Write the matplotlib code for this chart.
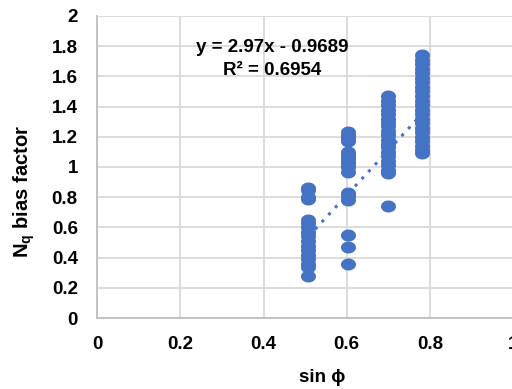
import numpy as np
import matplotlib
matplotlib.use("Agg")
import matplotlib.pyplot as plt
from matplotlib.path import Path

plt.rcParams['font.family'] = ['Liberation Sans', 'DejaVu Sans']
plt.rcParams['mathtext.fontset'] = 'custom'
plt.rcParams['mathtext.rm'] = 'Liberation Sans'
plt.rcParams['mathtext.bf'] = 'Liberation Sans:bold'

# sin(phi) levels and the N_q bias factors observed at each
x_levels = [0.508, 0.602, 0.700, 0.780]
bias_x1 = [0.86, 0.85, 0.80, 0.79, 0.65, 0.63, 0.60, 0.57, 0.54, 0.51, 0.48,
           0.45, 0.42, 0.39, 0.36, 0.34, 0.28]
bias_x2 = [1.23, 1.21, 1.19, 1.17, 1.10, 1.08, 1.06, 1.04, 1.02, 1.00, 0.97,
           0.83, 0.81, 0.78, 0.55, 0.47, 0.36]
bias_x3 = [1.47, 1.44, 1.41, 1.38, 1.35, 1.32, 1.30, 1.27, 1.24, 1.21, 1.18,
           1.15, 1.13, 1.10, 1.07, 1.04, 1.01, 0.98, 0.96, 0.74]
bias_x4 = [1.74, 1.71, 1.68, 1.65, 1.62, 1.59, 1.56, 1.53, 1.50, 1.47, 1.44,
           1.41, 1.38, 1.35, 1.32, 1.29, 1.26, 1.23, 1.20, 1.17, 1.14, 1.11,
           1.09]

# linear trendline
slope = 2.97
intercept = -0.9689
r_squared = 0.6954

x_ticks = [0, 0.2, 0.4, 0.6, 0.8, 1]
x_tick_labels = ['0', '0.2', '0.4', '0.6', '0.8', '1']
y_ticks = [0, 0.2, 0.4, 0.6, 0.8, 1, 1.2, 1.4, 1.6, 1.8, 2]
y_tick_labels = ['0', '0.2', '0.4', '0.6', '0.8', '1', '1.2', '1.4', '1.6', '1.8', '2']

blue = '#4472C4'
grid_grey = '#D9D9D9'
fs = 13.5

# slightly flattened circle marker
t = np.linspace(0, 2 * np.pi, 60)
ellipse = Path(np.column_stack([np.cos(t), 0.8 * np.sin(t)]), closed=True)

fig = plt.figure(figsize=(5.12, 3.89), dpi=100)
ax = fig.add_axes([0.190, 0.1825, 0.812, 0.7765])

groups = [bias_x1, bias_x2, bias_x3, bias_x4]
for xv, ys in zip(x_levels, groups):
    ax.plot([xv] * len(ys), ys, linestyle='none', marker=ellipse,
            markersize=10.8, color=blue, markeredgewidth=0, zorder=3)

xs = np.array([x_levels[0], x_levels[-1]])
ax.plot(xs, slope * xs + intercept, linestyle=(0, (1, 2.2)), color=blue,
        linewidth=2.2, zorder=2)

ax.text(0.42, 1.79, f'y = {slope:.2f}x - {abs(intercept):.4f}',
        ha='center', va='center', fontsize=fs, fontweight='bold')
ax.text(0.42, 1.64, f'R² = {r_squared:.4f}',
        ha='center', va='center', fontsize=fs, fontweight='bold')

ax.set_xlim(0, 1)
ax.set_ylim(0, 2)
ax.set_xticks(x_ticks)
ax.set_xticklabels(x_tick_labels)
ax.set_yticks(y_ticks)
ax.set_yticklabels(y_tick_labels)
ax.tick_params(length=0, labelsize=fs)
ax.tick_params(axis='y', pad=14)
ax.tick_params(axis='x', pad=13)
for lab in ax.get_xticklabels() + ax.get_yticklabels():
    lab.set_fontweight('bold')

ax.grid(True, color=grid_grey, linewidth=1.3, zorder=0)
ax.set_axisbelow(True)
for side in ['top', 'right']:
    ax.spines[side].set_visible(False)
for side in ['left', 'bottom']:
    ax.spines[side].set_color('#BFBFBF')
    ax.spines[side].set_linewidth(1.3)

fig.text(322 / 512, 1 - 378 / 389, 'sin ϕ', fontsize=fs, fontweight='bold',
         ha='center', va='center', family=['Liberation Sans', 'DejaVu Sans'])
fig.text(24 / 512, 1 - 192 / 389, r'$\mathbf{N_q}$ bias factor',
         fontsize=14.5, fontweight='bold', rotation=90,
         ha='center', va='center')

fig.savefig('out.png', dpi=100)
